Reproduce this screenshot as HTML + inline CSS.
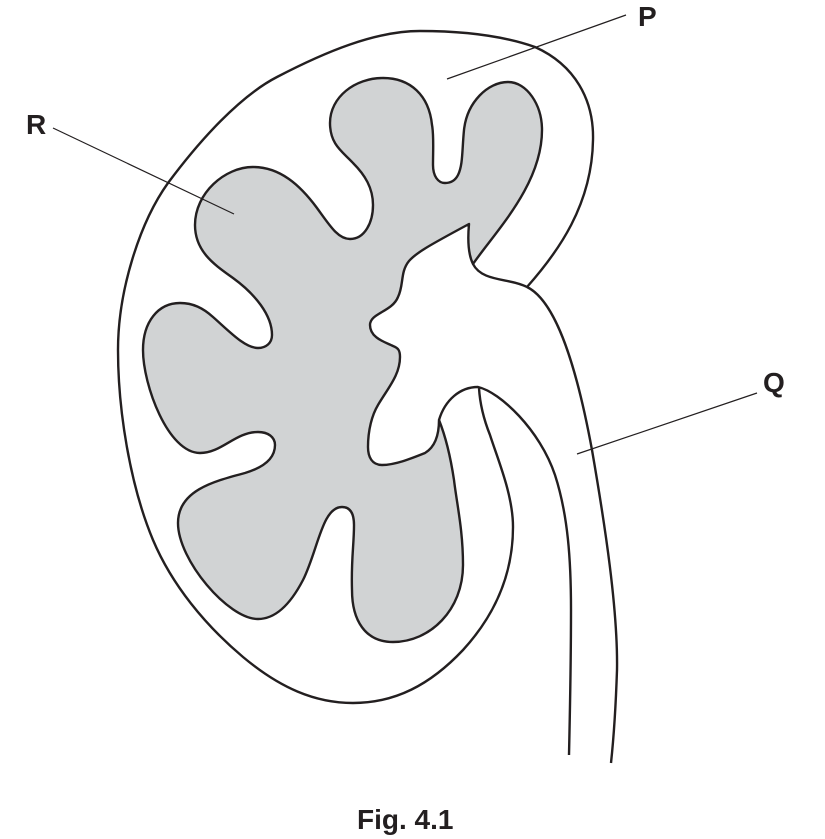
<!DOCTYPE html>
<html>
<head>
<meta charset="utf-8">
<style>
html,body{margin:0;padding:0;background:#fff;width:825px;height:839px;overflow:hidden}
svg{display:block}
text{font-family:"Liberation Sans",Arial,sans-serif;font-weight:bold;fill:#231f20}
</style>
</head>
<body>
<svg width="825" height="839" viewBox="0 0 825 839" xmlns="http://www.w3.org/2000/svg">
<!-- Shaded inner region -->
<path d="M473 264 C495 232 542 185 542 130 C542 105 527 82 508 82 C488 82 467 102 464 130 C462 150 463 165 458 175 C455 181 450 183 445 183 C438 183 433 176 433 165 C433 150 434 135 432 125 C429 95 410 78 383 78 C355 78 330 97 330 123 C330 145 343 152 353 163 C365 175 373 188 373 205 C373 222 365 239 350 239 C338 239 330 226 317 208 C300 185 280 167 253 167 C225 167 195 193 195 225 C195 252 215 265 233 278 C255 294 272 315 272 335 C272 343 266 348 258 348 C245 348 230 332 213 317 C203 308 193 303 180 303 C158 303 143 322 143 350 C143 385 168 453 200 453 C222 453 235 432 258 432 C268 432 275 437 275 445 C275 458 265 467 245 473 C215 481 178 490 178 523 C178 560 228 619 258 619 C275 619 290 605 303 580 C318 550 322 507 342 507 C350 507 354 513 354 525 C354 545 351 560 352 590 C352 620 365 642 393 642 C430 642 463 610 463 565 C463 530 457 505 454 480 C451 460 447 440 439 420 C439 435 435 447 425 453 C410 459 395 465 382 465 C372 465 368 457 368 447 C368 430 372 415 378 405 C388 388 400 375 400 357 C400 350 398 348 393 346 C385 342 370 338 370 325 C370 313 392 312 398 297 C404 285 400 272 409 261 C416 253 428 246 469 224 C468 235 467 252 473 264 Z" fill="#d1d3d4" stroke="#231f20" stroke-width="2.4" stroke-linejoin="round"/>
<!-- Outer outline -->
<path d="M527 287 C558 252 592 205 593 140 C594 100 575 65 535 47 C495 33 450 31 420 31 C375 31 325 52 277 77 C240 96 200 140 168 183 C140 222 118 290 118 350 C118 410 130 485 153 540 C172 585 205 625 243 657 C280 688 315 703 353 703 C395 703 430 685 463 650 C495 615 513 575 513 527 C513 495 498 460 490 435 C484 420 480 405 479 388" fill="none" stroke="#231f20" stroke-width="2.4"/>
<!-- Tube outer edge -->
<path d="M473 264 C482 282 510 278 527 287 C560 303 580 385 592 450 C605 525 618 610 617 670 C616 700 614 735 611 763" fill="none" stroke="#231f20" stroke-width="2.4"/>
<!-- Tube inner edge -->
<path d="M439 420 C445 400 460 387 478 387 C500 392 540 430 555 475 C568 515 571 560 571 610 C571 660 570 710 569 755" fill="none" stroke="#231f20" stroke-width="2.4"/>
<!-- Label lines -->
<line x1="447" y1="79" x2="626" y2="15" stroke="#231f20" stroke-width="1.2"/>
<line x1="53" y1="128" x2="234" y2="214" stroke="#231f20" stroke-width="1.2"/>
<line x1="577" y1="454" x2="757" y2="393" stroke="#231f20" stroke-width="1.2"/>
<!-- Labels -->
<text x="638" y="26" font-size="28">P</text>
<text x="26" y="134" font-size="28">R</text>
<text x="763" y="392" font-size="28">Q</text>
<text x="357" y="829" font-size="28">Fig. 4.1</text>
</svg>
</body>
</html>
